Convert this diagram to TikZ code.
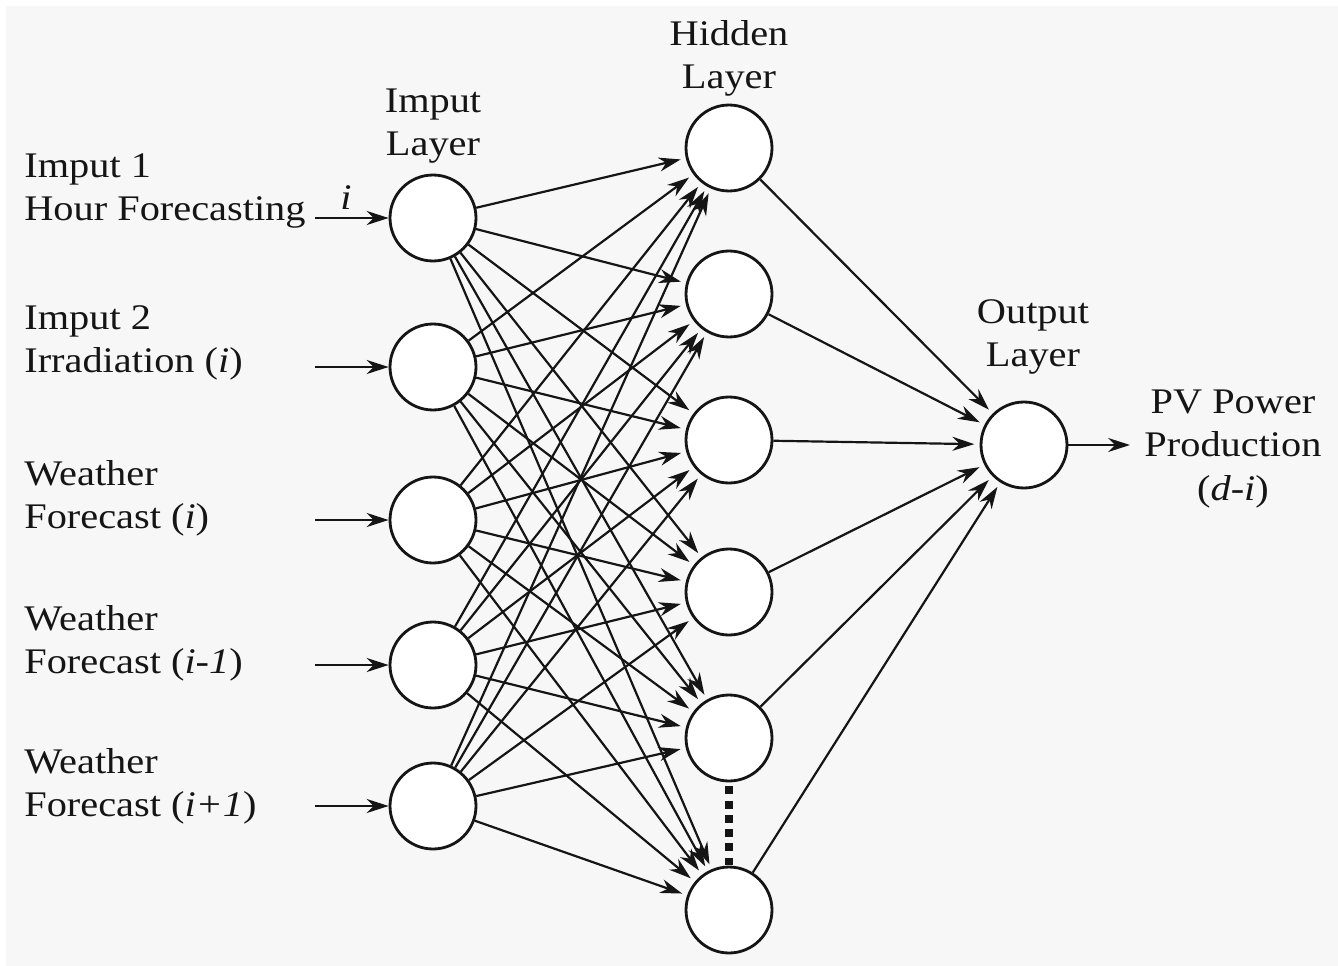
\documentclass[tikz,border=0pt]{standalone}
\usepackage{fontspec}
\setmainfont{Liberation Serif}[FakeStretch=1.12]
\usetikzlibrary{arrows.meta}
\definecolor{paper}{HTML}{F7F7F7}
\definecolor{ink}{HTML}{151515}
\tikzset{
  neuron/.style={circle, draw=ink, line width=1.6pt, minimum size=1.72cm, inner sep=0pt, fill=white},
  link/.style={draw=ink, line width=1.25pt, -{Stealth[length=12.5pt,width=8pt]}, shorten >=3pt},
  feed/.style={draw=ink, line width=1.4pt, -{Stealth[length=12.5pt,width=8pt]}},
  lbl/.style={font=\fontsize{20.5}{24.5}\selectfont, text=ink, inner sep=0pt},
  lblleft/.style={lbl, align=left, anchor=west},
  lblmid/.style={lbl, align=center}
}
\begin{document}
\begin{tikzpicture}[x=0.02cm, y=-0.02cm]
  % canvas
  \fill[white] (0,0) rectangle (1338,966);
  \fill[paper] (6,6) rectangle (1338,966);
  \useasboundingbox (0,0) rectangle (1338,966);

  % input layer
  \foreach \k/\yy in {1/218, 2/367, 3/520, 4/665, 5/806}
    \node[neuron] (in\k) at (433,\yy) {};
  % hidden layer
  \foreach \k/\yy in {1/148, 2/294, 3/440, 4/592, 5/738, 6/910}
    \node[neuron] (hid\k) at (729,\yy) {};
  % output layer
  \node[neuron] (out) at (1024,445) {};

  % fully connected weights
  \foreach \a in {1,...,5}
    \foreach \b in {1,...,6}
      \draw[link] (in\a) -- (hid\b);
  \foreach \b in {1,...,6}
    \draw[link] (hid\b) -- (out);

  % elided hidden units
  \draw[ink, line width=4.5pt, dash pattern=on 4.5pt off 3.6pt] (hid5.south) ++(0,4) coordinate (dtop) -- (hid6.north) coordinate (dbot);

  % layer titles
  \node[lblmid] (tin)  at (433,126) {Imput\\Layer};
  \node[lblmid] (thid) at (729,58)  {Hidden\\Layer};
  \node[lblmid] (tout) at (1033,337) {Output\\Layer};

  % input descriptions and feeds
  \node[lblleft] (l1) at (24,191) {Imput 1\\Hour Forecasting};
  \node[lblleft] (l2) at (24,343) {Imput 2\\Irradiation (\textit{i})};
  \node[lblleft] (l3) at (24,498) {Weather\\Forecast (\textit{i})};
  \node[lblleft] (l4) at (24,643) {Weather\\Forecast (\textit{i-1})};
  \node[lblleft] (l5) at (24,786) {Weather\\Forecast (\textit{i+1})};

  \coordinate (s1) at (315,218);
  \coordinate (s2) at (315,367);
  \coordinate (s3) at (315,520);
  \coordinate (s4) at (315,665);
  \coordinate (s5) at (315,806);
  \foreach \k in {1,...,5}
    \draw[feed] (s\k) -- (in\k.west);
  \node[lbl, font=\fontsize{20.5}{24.5}\selectfont\itshape] (ilbl) at (346,198) {i};

  % network output
  \node[lblmid] (pv) at (1233,449) {PV Power\\Production\\(\textit{d-i})};
  \coordinate (oend) at (1130,445);
  \draw[feed] (out.east) -- (oend);
\end{tikzpicture}
\end{document}
